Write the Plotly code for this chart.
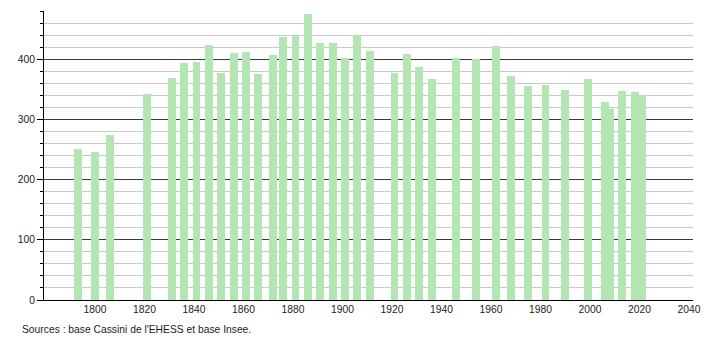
import plotly.graph_objects as go

years = [1793, 1800, 1806, 1821, 1831, 1836, 1841, 1846, 1851, 1856, 1861, 1866,
         1872, 1876, 1881, 1886, 1891, 1896, 1901, 1906, 1911, 1921, 1926, 1931,
         1936, 1946, 1954, 1962, 1968, 1975, 1982, 1990, 1999, 2006, 2008, 2013,
         2018, 2021]
population = [251, 246, 274, 342, 369, 394, 395, 424, 377, 410, 412, 375,
              407, 437, 440, 475, 427, 427, 402, 440, 414, 377, 409, 387,
              367, 402, 400, 422, 372, 356, 357, 349, 367, 329, 317, 347,
              345, 341]
x_ticks = [1800, 1820, 1840, 1860, 1880, 1900, 1920, 1940, 1960, 1980, 2000, 2020, 2040]
y_ticks = [0, 100, 200, 300, 400]
source_text = "Sources : base Cassini de l'EHESS et base Insee."

FONT = "Liberation Sans, Arial, sans-serif"

fig = go.Figure()
fig.add_trace(go.Bar(
    x=years, y=population, width=3.2,
    marker=dict(color="rgb(179,230,179)", line=dict(width=0)),
    hoverinfo="x+y",
))

fig.update_layout(
    width=710, height=340,
    margin=dict(l=44, r=9, t=11, b=40),
    plot_bgcolor="white", paper_bgcolor="white",
    showlegend=False,
    font=dict(family=FONT, size=10.3, color="#222"),
    bargap=0,
)
fig.update_xaxes(
    range=[1779.4, 2041.6],
    tickvals=x_ticks, ticktext=[str(v) for v in x_ticks],
    showgrid=False, zeroline=False,
    showline=True, linecolor="black", linewidth=1,
    ticks="", ticklabelstandoff=0,
)
fig.update_yaxes(
    range=[0, 480],
    tickvals=y_ticks, ticktext=[str(v) for v in y_ticks],
    showgrid=True, gridcolor="#3a3a3a", gridwidth=1,
    zeroline=False,
    showline=True, linecolor="black", linewidth=1,
    ticks="outside", ticklen=6, tickcolor="black", tickwidth=1,
    minor=dict(dtick=20, tick0=0, ticks="outside", ticklen=3, tickcolor="black",
               showgrid=True, gridcolor="#c8c8c8", gridwidth=1),
)
fig.add_annotation(
    text=source_text, xref="paper", yref="paper",
    x=-24 / 657, y=-29 / 289, xanchor="left", yanchor="middle",
    showarrow=False, font=dict(family=FONT, size=10.3, color="#222"),
)

fig.write_html("out.html")
